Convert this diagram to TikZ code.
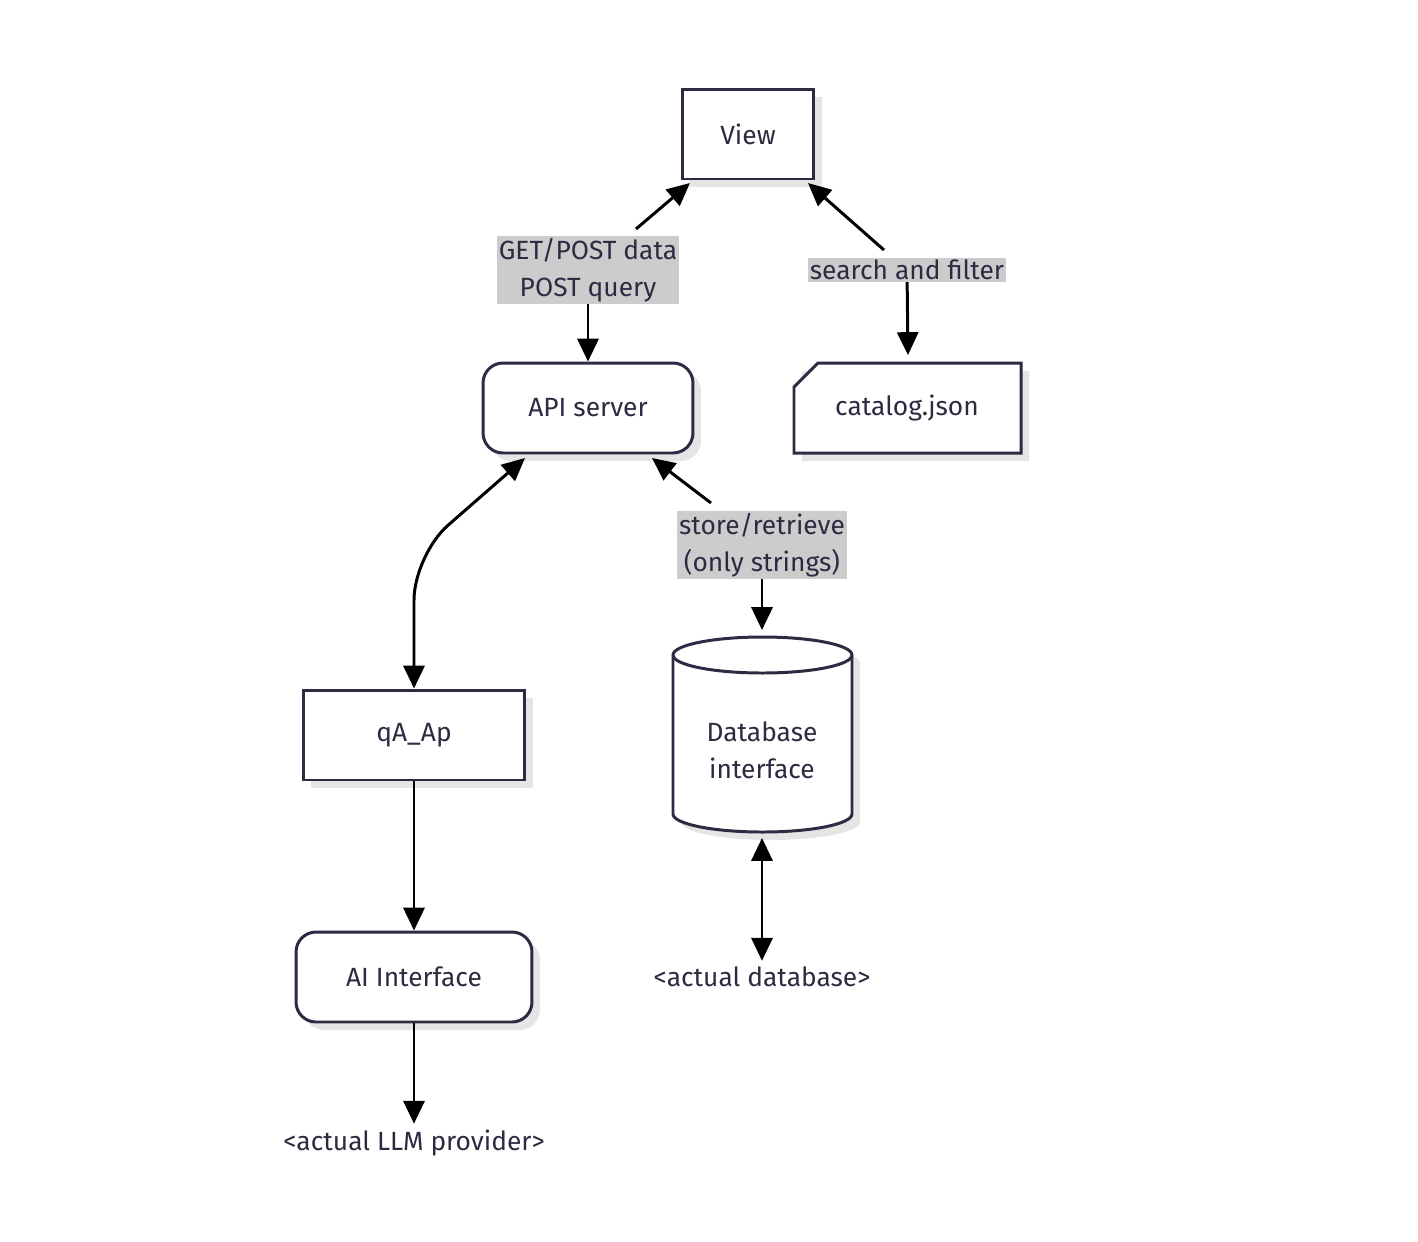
\documentclass[tikz,border=0pt]{standalone}
\usepackage{fontspec}
\setmainfont{Fira Sans}
\usetikzlibrary{arrows.meta,positioning,shadows}
\definecolor{ink}{HTML}{2D2B42}
\definecolor{labelgray}{HTML}{CCCCCC}
\begin{document}
\begin{tikzpicture}[x=0.02cm, y=-0.02cm,
  every node/.style={font=\fontsize{15}{21}\selectfont, text=ink},
  box/.style={rectangle, draw=ink, line width=1.7pt, fill=white, align=center,
    drop shadow={fill=black!10, opacity=1, shadow xshift=0.16cm, shadow yshift=-0.16cm}},
  roundbox/.style={box, rounded corners=0.4cm},
  tag/.style={fill=labelgray, inner sep=1pt, align=center},
  link/.style={-{Triangle[length=13pt,width=12pt]}, line width=1.7pt, black},
  both/.style={{Triangle[length=13pt,width=12pt]}-{Triangle[length=13pt,width=12pt]}, line width=1.7pt, black},
]
\useasboundingbox (0,0) rectangle (1418,1242);

% Boxes
\node[box, minimum width=2.64cm, minimum height=1.8cm] (view) at (748,134) {View};
\node[roundbox, minimum width=4.2cm, minimum height=1.8cm] (api) at (588,408) {API server};
\node[box, minimum width=4.44cm, minimum height=1.8cm] (qa) at (414,735) {qA\_Ap};
\node[roundbox, minimum width=4.72cm, minimum height=1.8cm] (ai) at (414,977) {AI Interface};

% catalog.json (cut corner)
\fill[black!10] (802,371) -- (826,371) -- (1029,371) -- (1029,461) -- (802,461) -- cycle;
\draw[ink, line width=1.7pt, fill=white] (794,387) -- (818,363) -- (1021,363) -- (1021,453) -- (794,453) -- cycle;
\node (cat) at (907,408) {catalog.json};
\coordinate (cattop) at (908,355);

% Database cylinder
\fill[black!10] (681,663) -- (681,822) arc[start angle=180, end angle=360, x radius=89.5, y radius=-18] -- (860,663) arc[start angle=0, end angle=180, x radius=89.5, y radius=-18];
\draw[ink, line width=1.7pt, fill=white] (673,655) -- (673,814) arc[start angle=180, end angle=360, x radius=89.5, y radius=-18] -- (852,655) arc[start angle=0, end angle=180, x radius=89.5, y radius=-18];
\draw[ink, line width=1.7pt] (673,655) arc[start angle=180, end angle=360, x radius=89.5, y radius=-18];
\node[align=center] (db) at (762,750) {Database\\interface};
\coordinate (dbtop) at (762,630);
\coordinate (dbbot) at (762,838);

% Plain endpoints
\node (actdb) at (762,977) {<actual database>};
\node (llm) at (414,1143) {<actual LLM provider>};

% Edge labels
\node[tag] (getpost) at (588,270) {GET/POST data\\POST query};
\node[tag] (search) at (907,270) {search and filter};
\node[tag] (store) at (762,545) {store/retrieve\\(only strings)};

% Connectors
\coordinate (g1) at (636,229);
\coordinate (s1) at (884,250);
\coordinate (r1) at (711,503);
\coordinate (v1) at (690,183);
\coordinate (v2) at (808,183);
\coordinate (a1) at (525,458);
\coordinate (a2) at (652,458);
\draw[link] (g1) -- (v1);
\draw[link] (getpost) -- (api);
\draw[link] (s1) -- (v2);
\draw[link] (search) -- (cattop);
\draw[link] (r1) -- (a2);
\draw[link] (store) -- (dbtop);
\draw[both, rounded corners=0.9cm] (qa.north) -- (414,555) -- (a1);
\draw[link] (qa) -- (ai);
\draw[both] (dbbot) -- (actdb);
\draw[link] (ai) -- (llm);
\end{tikzpicture}
\end{document}
